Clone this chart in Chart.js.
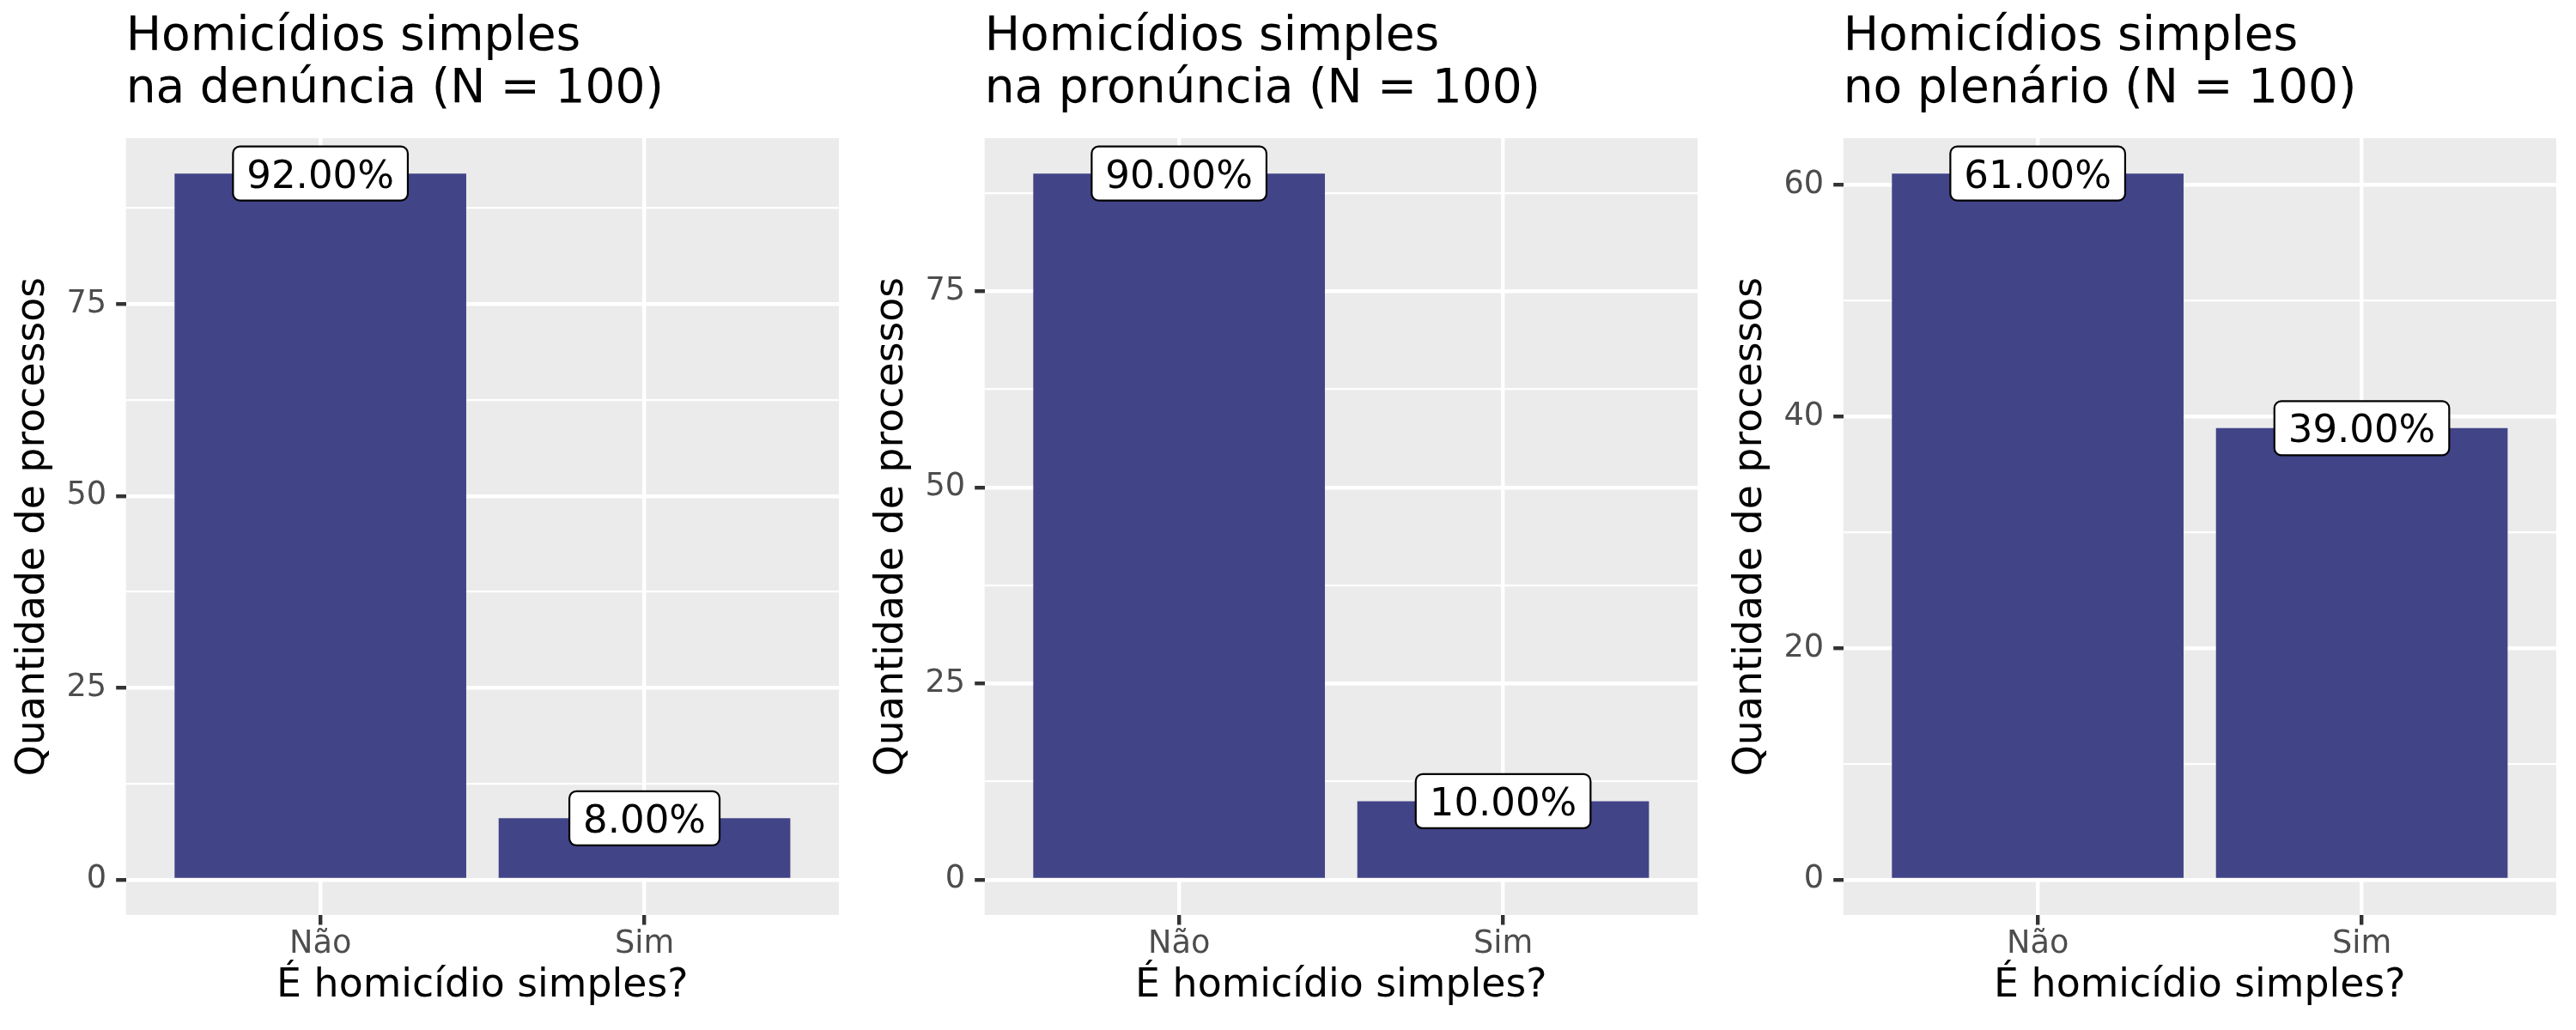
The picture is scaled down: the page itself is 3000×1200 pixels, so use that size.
<!DOCTYPE html>
<html>
<head>
<meta charset="utf-8">
<script src="https://cdn.jsdelivr.net/npm/chart.js@4/dist/chart.umd.min.js"></script>
<style>
html, body { margin: 0; padding: 0; background: #ffffff; }
#wrap { position: relative; width: 3000px; height: 1200px; }
#wrap canvas { position: absolute; top: 0; }
</style>
</head>
<body>
<div id="wrap">
  <canvas id="c0" width="1000" height="1200" style="left:0px"></canvas>
  <canvas id="c1" width="1000" height="1200" style="left:1000px"></canvas>
  <canvas id="c2" width="1000" height="1200" style="left:2000px"></canvas>
</div>
<script>
// ---------- data ----------
const categories = ['Não', 'Sim'];
const totalN = 100;

const titleDenuncia = ['Homicídios simples', 'na denúncia (N = 100)'];
const titlePronuncia = ['Homicídios simples', 'na pronúncia (N = 100)'];
const titlePlenario = ['Homicídios simples', 'no plenário (N = 100)'];

const valuesDenuncia = [92, 8];
const valuesPronuncia = [90, 10];
const valuesPlenario = [61, 39];

const yMajorDenuncia = [0, 25, 50, 75];
const yMinorDenuncia = [12.5, 37.5, 62.5, 87.5];
const yMajorPronuncia = [0, 25, 50, 75];
const yMinorPronuncia = [12.5, 37.5, 62.5, 87.5];
const yMajorPlenario = [0, 20, 40, 60];
const yMinorPlenario = [10, 30, 50];

const xAxisTitle = 'É homicídio simples?';
const yAxisTitle = 'Quantidade de processos';

// ---------- style ----------
const FONT = 'DejaVu Sans';
Chart.defaults.font.family = FONT;

const panelBg = {
  id: 'panelBg',
  beforeDraw(chart) {
    const { ctx, chartArea: a } = chart;
    ctx.save();
    ctx.fillStyle = '#EBEBEB';
    ctx.fillRect(a.left, a.top, a.right - a.left, a.bottom - a.top);
    ctx.restore();
  }
};

const barLabels = {
  id: 'barLabels',
  afterDatasetsDraw(chart, args, opts) {
    const meta = chart.getDatasetMeta(0);
    const ctx = chart.ctx;
    const fs = 45;
    ctx.save();
    ctx.font = fs + 'px "' + FONT + '"';
    meta.data.forEach((el, i) => {
      const txt = opts.labels[i];
      const tw = ctx.measureText(txt).width;
      const w = tw + 32, h = 63, r = 8;
      const x = el.x - w / 2, y = el.y - h / 2;
      ctx.beginPath();
      ctx.moveTo(x + r, y);
      ctx.lineTo(x + w - r, y);
      ctx.arcTo(x + w, y, x + w, y + r, r);
      ctx.lineTo(x + w, y + h - r);
      ctx.arcTo(x + w, y + h, x + w - r, y + h, r);
      ctx.lineTo(x + r, y + h);
      ctx.arcTo(x, y + h, x, y + h - r, r);
      ctx.lineTo(x, y + r);
      ctx.arcTo(x, y, x + r, y, r);
      ctx.closePath();
      ctx.fillStyle = '#ffffff';
      ctx.fill();
      ctx.lineWidth = 2.2;
      ctx.strokeStyle = '#000000';
      ctx.stroke();
      ctx.fillStyle = '#000000';
      ctx.textAlign = 'center';
      ctx.textBaseline = 'alphabetic';
      ctx.fillText(txt, el.x, el.y + 0.729 * fs / 2);
    });
    ctx.restore();
  }
};

function makeChart(id, titleLines, values, majors, minors) {
  const maxV = Math.max(...values);
  const yMin = -0.05 * maxV, yMax = 1.05 * maxV;
  const majorSet = new Set(majors);
  const allY = majors.concat(minors).sort((a, b) => a - b);
  const isMajorCtx = (c) => c.tick && majorSet.has(c.tick.value);
  const points = values.map((v, i) => ({ x: i + 1, y: v }));
  const labels = values.map(v => (v / totalN * 100).toFixed(2) + '%');

  return new Chart(document.getElementById(id), {
    type: 'bar',
    data: {
      datasets: [{
        data: points,
        backgroundColor: '#414487',
        borderWidth: 0,
        categoryPercentage: 1.0,
        barPercentage: 0.9
      }]
    },
    options: {
      responsive: false,
      animation: false,
      devicePixelRatio: 1,
      layout: { padding: { left: 0, right: 23, top: 0, bottom: 0 } },
      plugins: {
        legend: { display: false },
        tooltip: { enabled: false },
        title: {
          display: true,
          text: titleLines,
          align: 'start',
          fullSize: false,
          color: '#000000',
          font: { family: FONT, size: 55, weight: 'normal', lineHeight: 1.1 },
          padding: { top: 13.5, bottom: 26.5 }
        },
        barLabels: { labels: labels }
      },
      scales: {
        x: {
          type: 'linear',
          min: 0.4,
          max: 2.6,
          offset: false,
          afterBuildTicks: (s) => { s.ticks = categories.map((c, i) => ({ value: i + 1 })); },
          afterFit: (s) => { s.height = 134; },
          ticks: {
            autoSkip: false,
            maxRotation: 0,
            padding: 1,
            color: '#4D4D4D',
            font: { family: FONT, size: 36.7, lineHeight: 1.2 },
            callback: (v) => categories[v - 1] || ''
          },
          grid: {
            offset: false,
            color: '#ffffff',
            lineWidth: 4.4,
            drawTicks: true,
            tickLength: 11.5,
            tickWidth: 4.4,
            tickColor: '#333333'
          },
          border: { display: false },
          title: {
            display: true,
            text: xAxisTitle,
            color: '#000000',
            font: { family: FONT, size: 45.8, lineHeight: 1.2 },
            padding: { top: 0, bottom: 23.3 }
          }
        },
        y: {
          type: 'linear',
          min: yMin,
          max: yMax,
          afterBuildTicks: (s) => { s.ticks = allY.map(v => ({ value: v })); },
          afterFit: (s) => { s.width = 146.7; },
          ticks: {
            autoSkip: false,
            padding: 11,
            color: '#4D4D4D',
            font: { family: FONT, size: 36.7, lineHeight: 1.2 },
            callback: (v) => majorSet.has(v) ? String(v) : ''
          },
          grid: {
            color: '#ffffff',
            lineWidth: (c) => isMajorCtx(c) ? 4.4 : 2.2,
            drawTicks: true,
            tickLength: 11.5,
            tickWidth: (c) => isMajorCtx(c) ? 4.4 : 0.01,
            tickColor: (c) => isMajorCtx(c) ? '#333333' : 'rgba(0,0,0,0)'
          },
          border: { display: false },
          title: {
            display: true,
            text: yAxisTitle,
            color: '#000000',
            font: { family: FONT, size: 45.8, lineHeight: 1.2 },
            padding: { top: 11.7, bottom: 0 }
          }
        }
      }
    },
    plugins: [panelBg, barLabels]
  });
}

makeChart('c0', titleDenuncia, valuesDenuncia, yMajorDenuncia, yMinorDenuncia);
makeChart('c1', titlePronuncia, valuesPronuncia, yMajorPronuncia, yMinorPronuncia);
makeChart('c2', titlePlenario, valuesPlenario, yMajorPlenario, yMinorPlenario);
</script>
</body>
</html>
